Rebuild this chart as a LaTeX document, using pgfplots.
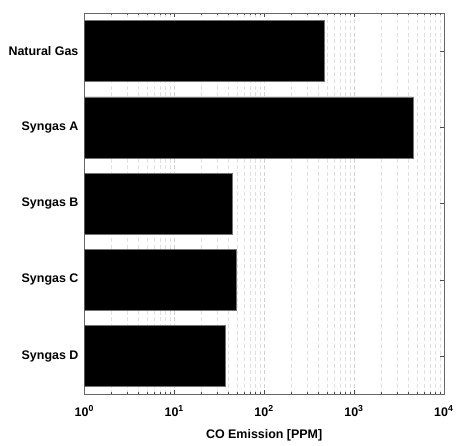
\documentclass[border=0pt]{standalone}
\usepackage{pgfplots}
\pgfplotsset{compat=1.18}
\usepackage{fontspec}
\setmainfont{Liberation Sans}
\begin{document}
\begin{tikzpicture}
\begin{axis}[
  scale only axis, width=271.5pt, height=288pt,
  xbar, xmode=log, log origin=0,
  xmin=1, xmax=10000, ymin=0.5, ymax=5.5,
  bar width=0.8,
  ytick={1,2,3,4,5},
  yticklabels={Syngas D, Syngas C, Syngas B, Syngas A, Natural Gas},
  xtick={1,10,100,1000,10000},
  xticklabels={10\textsuperscript{0},10\textsuperscript{1},10\textsuperscript{2},10\textsuperscript{3},10\textsuperscript{4}},
  tick align=inside,
  major tick length=3pt, minor tick length=1.8pt,
  tick style={black!70, line width=0.4pt},
  axis line style={black!60, line width=0.5pt},
  xmajorgrids, xminorgrids,
  major grid style={densely dashed, black!18, line width=0.3pt},
  minor grid style={densely dashed, black!12, line width=0.3pt},
  tick label style={font=\bfseries\fontsize{9.4}{11}\selectfont},
  xticklabel style={yshift=-5pt},
  yticklabel style={xshift=-1pt},
  xlabel={CO Emission [PPM]},
  xlabel style={font=\bfseries\fontsize{9.4}{11}\selectfont, yshift=-3pt},
]
\addplot[fill=black, draw=black!55, line width=0.4pt] coordinates {
  (37,1) (49.5,2) (44,3) (4560,4) (472,5)
};
\end{axis}
\path ([xshift=-63.75pt,yshift=-29.25pt]current axis.south west) rectangle ([xshift=8.25pt,yshift=9.75pt]current axis.north east);
\end{tikzpicture}
\end{document}
